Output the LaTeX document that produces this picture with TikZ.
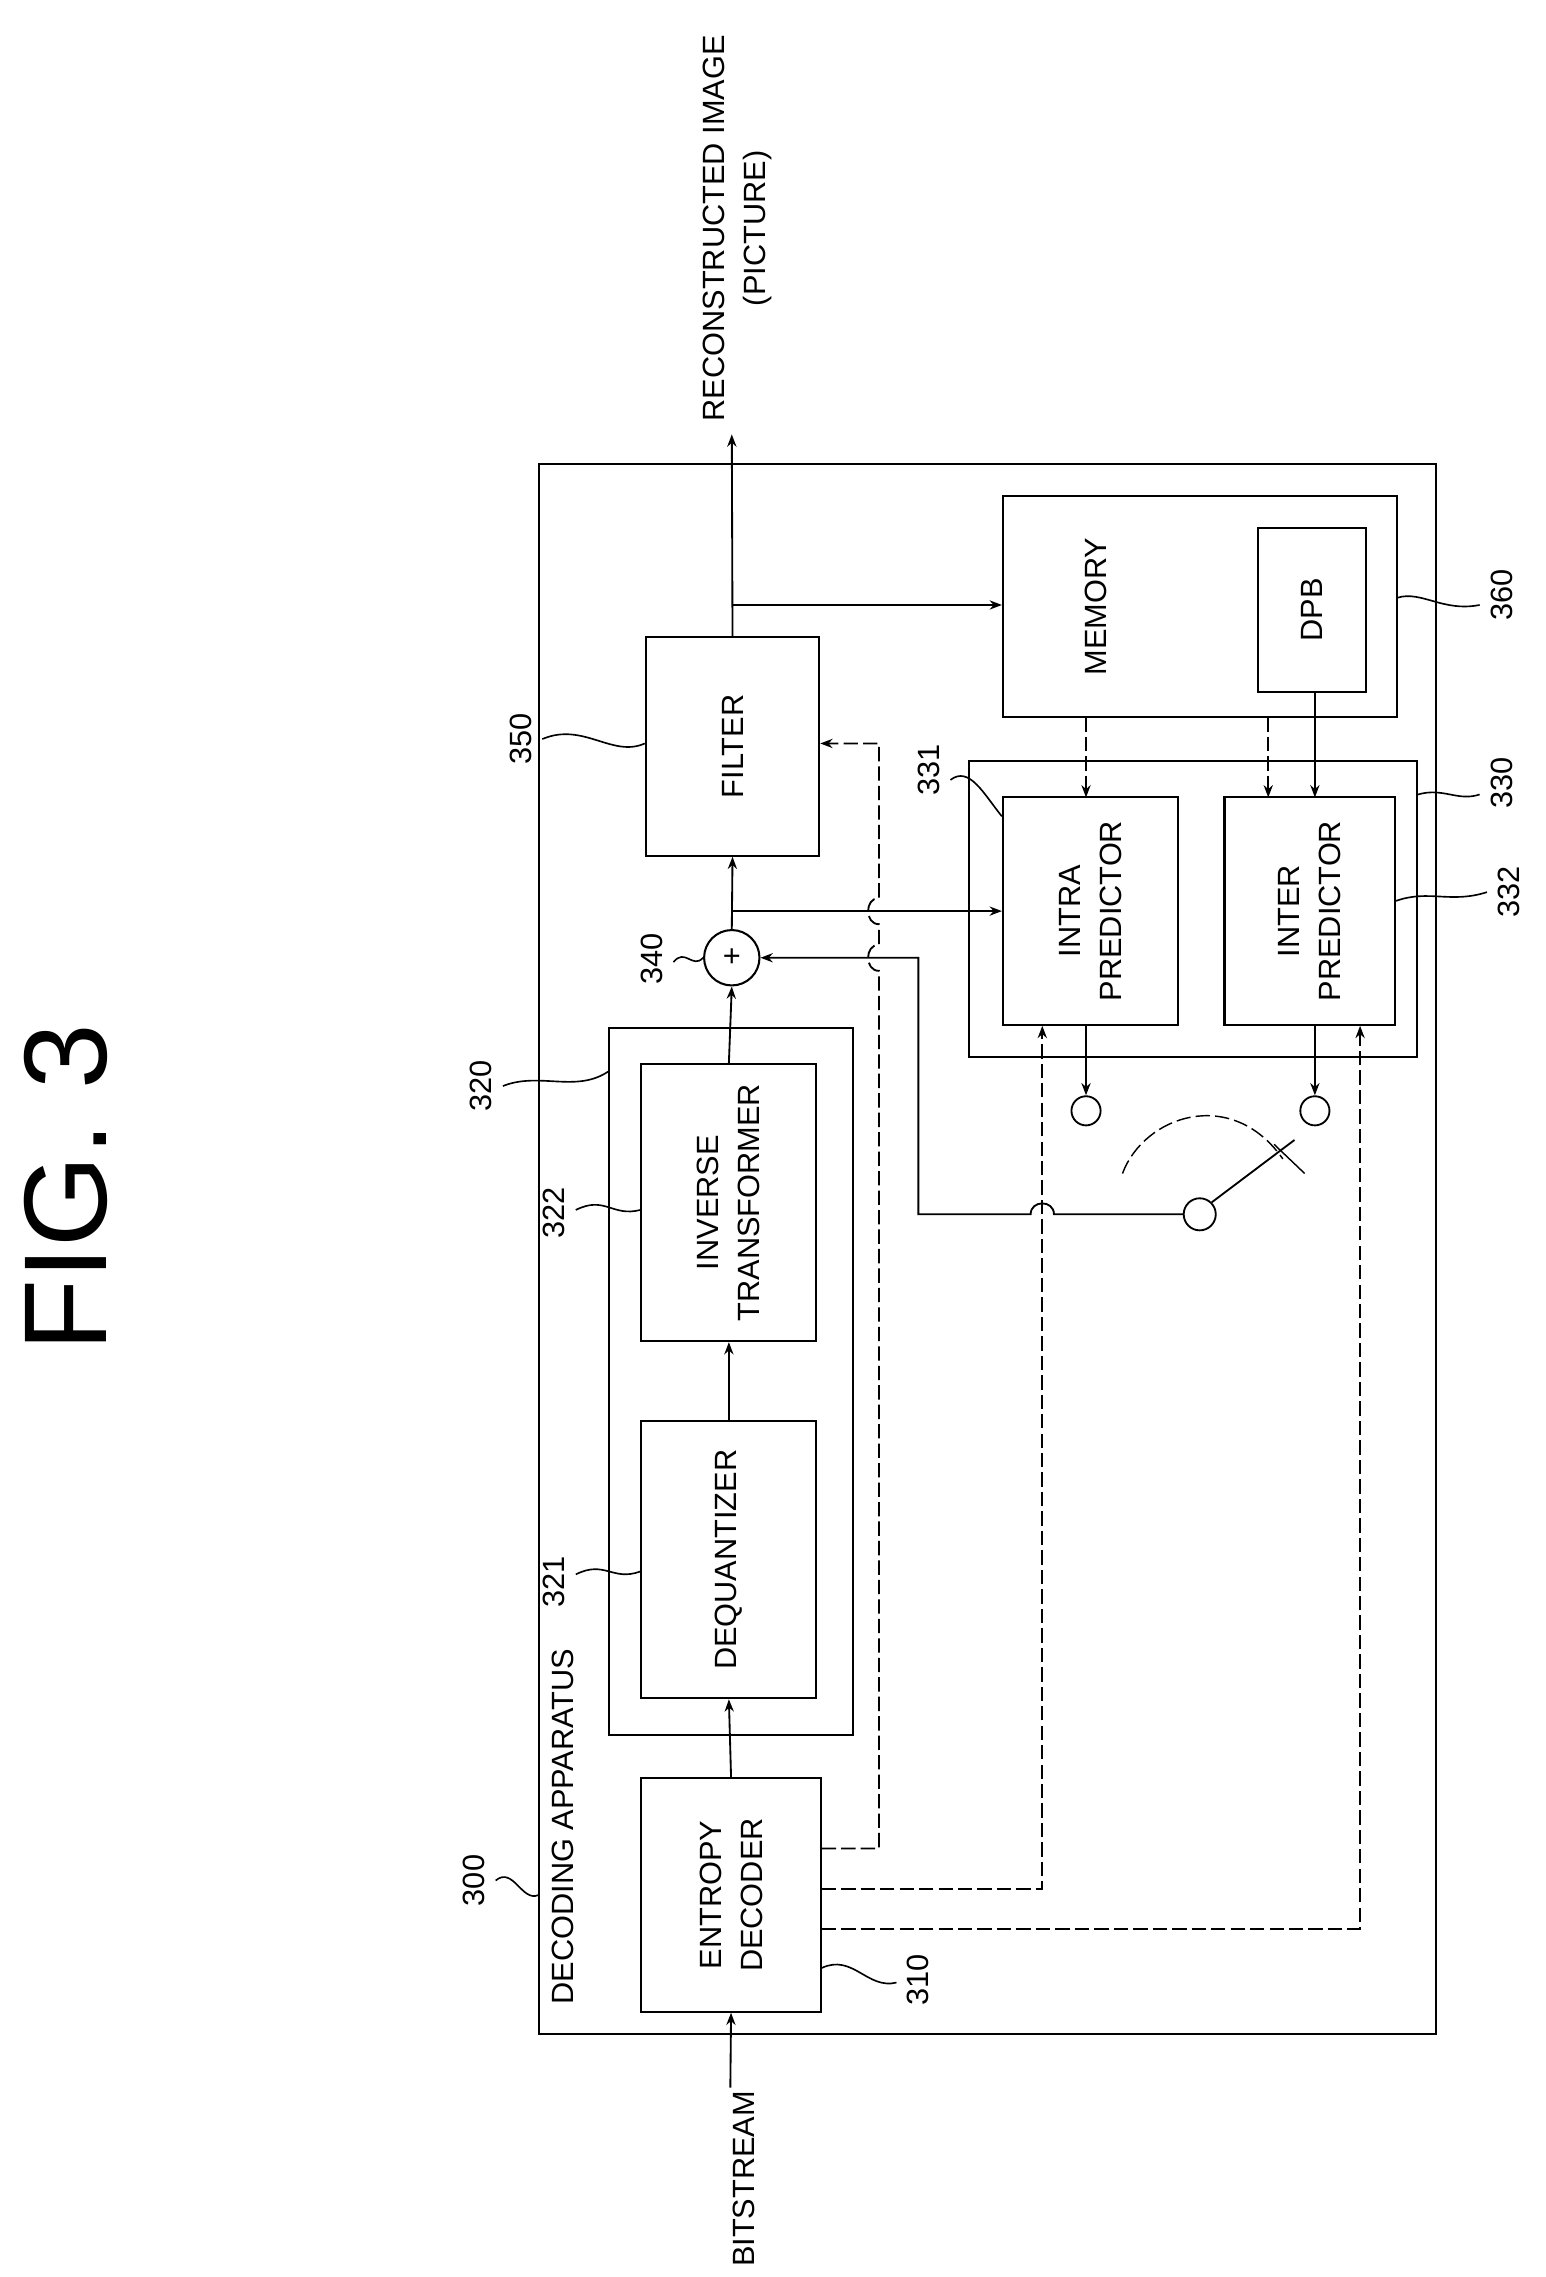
\documentclass[tikz,border=0pt]{standalone}
\usepackage{fontspec}
\setmainfont{Liberation Sans}
\usetikzlibrary{fit,arrows.meta}
\begin{document}
\begin{tikzpicture}[x=0.05cm,y=-0.05cm,line width=1.8pt,
  box/.style={draw,inner sep=0pt,line width=2pt},
  txt/.style={rotate=90,align=center,font=\fontsize{30}{40}\selectfont},
  num/.style={rotate=90,font=\fontsize{30}{36}\selectfont},
  arr/.style={-{Stealth[length=12pt,width=9pt]}},
  dsh/.style={dash pattern=on 14pt off 5pt},
  lead/.style={line width=1.6pt}]
\useasboundingbox (0,0) rectangle (1060,1562);
% boxes
\node[box,fit={(370,318)(985,1395)}] (outer) {};
\node[box,fit={(440,1220)(563,1380)},label={[txt]center:ENTROPY\\DECODER}] (ent) {};
\node[box,fit={(418,705)(585,1190)}] (b320) {};
\node[box,fit={(440,975)(560,1165)},label={[txt]center:DEQUANTIZER}] (deq) {};
\node[box,fit={(440,730)(560,920)},label={[txt]center:INVERSE\\TRANSFORMER}] (inv) {};
\node[box,fit={(443,437)(562,587)},label={[txt]center:FILTER}] (filt) {};
\node[draw,circle,minimum size=1.9cm,inner sep=0pt,line width=2pt] (add) at (502,657) {\fontsize{30}{30}\selectfont +};
\node[box,fit={(688,340)(958,492)}] (mem) {};
\node[txt] (memt) at (752,416) {MEMORY};
\node[box,fit={(863,362)(937,475)},label={[txt]center:DPB}] (dpb) {};
\node[box,fit={(665,522)(972,725)}] (b330) {};
\node[box,fit={(688,547)(808,703)},label={[txt]center:INTRA\\PREDICTOR}] (intra) {};
\node[box,fit={(840,547)(957,703)},label={[txt]center:INTER\\PREDICTOR}] (inter) {};
\node[draw,circle,minimum size=1cm,inner sep=0pt] (c1) at (745,762) {};
\node[draw,circle,minimum size=1cm,inner sep=0pt] (c2) at (902,762) {};
\node[draw,circle,minimum size=1.1cm,inner sep=0pt] (c3) at (823,833) {};
% texts
\node[txt,anchor=west] (dec) at (386,1378) {DECODING APPARATUS};
\node[txt,anchor=west] (bit) at (510,1558) {BITSTREAM};
\node[txt,anchor=west] (rec) at (506,292) {RECONSTRUCTED IMAGE\\(PICTURE)};
\node[rotate=90,font=\fontsize{115}{115}\selectfont] (fig) at (45,815) {FIG. 3};
\coordinate (bitin) at (501,1432);
\coordinate (out) at (502,298);
% main path
\draw[arr] (bitin) -- (ent.south);
\draw[arr] (ent.north) -- (deq.south);
\draw[arr] (deq.north) -- (inv.south);
\draw[arr] (inv.north) -- (add.south);
\draw[arr] (add.north) -- (filt.south);
\draw[arr] (filt.north) -- (out);
\draw[arr] (502,415) -- (mem.west |- 0,415);
\draw[arr] (502,625) -- (610,625) -- (intra.west |- 0,625);
\draw[arr,dsh] (745,492) -- (745,547);
\draw[arr,dsh] (870,492) -- (870,547);
\draw[arr] (dpb.south -| 902,0) -- (902,547);
\draw[arr] (745,703) -- (c1.north);
\draw[arr] (902,703) -- (c2.north);
% switch
\coordinate (lev) at (888,782);
\draw (c3.north east) -- (lev);
\draw[line width=1.4pt] (874,785) -- (895,805);
\draw[dsh,line width=1.4pt] (770,805) .. controls (785,765) and (845,745) .. (880,795);
\draw[arr] (c3.west) -- (723,833) .. controls (723,823) and (707,823) .. (707,833) -- (630,833) -- (630,657) -- (add.east);
% entropy outputs
\draw[arr,dsh] (ent.east |- 0,1268) -- (603,1268) -- (603,666)
  .. controls (593,666) and (593,648) .. (603,648) -- (603,634)
  .. controls (593,634) and (593,616) .. (603,616) -- (603,510) -- (filt.east |- 0,510);
\draw[arr,dsh] (ent.east |- 0,1296) -- (715,1296) -- (intra.south -| 715,0);
\draw[arr,dsh] (ent.east |- 0,1323) -- (933,1323) -- (inter.south -| 933,0);
% reference numerals
\node[num] (n300) at (325,1290) {300};
\draw[lead] (340,1290) .. controls (352,1280) and (358,1305) .. (outer.west |- 0,1300);
\node[num] (n310) at (630,1358) {310};
\draw[lead] (ent.east |- 0,1350) .. controls (585,1340) and (595,1365) .. (615,1360);
\node[num] (n320) at (330,745) {320};
\draw[lead] (345,745) .. controls (370,735) and (395,750) .. (b320.west |- 0,735);
\node[num] (n322) at (380,832) {322};
\draw[lead] (395,830) .. controls (415,820) and (420,835) .. (inv.west |- 0,830);
\node[num] (n321) at (380,1085) {321};
\draw[lead] (395,1080) .. controls (415,1070) and (420,1085) .. (deq.west |- 0,1078);
\node[num] (n340) at (447,658) {340};
\draw[lead] (462,660) .. controls (470,650) and (475,665) .. (add.west);
\node[num] (n350) at (357,507) {350};
\draw[lead] (372,507) .. controls (400,495) and (420,520) .. (filt.west |- 0,510);
\node[num] (n331) at (637,528) {331};
\draw[lead] (652,535) .. controls (665,525) and (675,545) .. (intra.west |- 0,560);
\node[num] (n330) at (1030,537) {330};
\draw[lead] (b330.east |- 0,545) .. controls (990,540) and (1000,550) .. (1015,545);
\node[num] (n332) at (1035,612) {332};
\draw[lead] (inter.east |- 0,618) .. controls (980,610) and (995,620) .. (1020,612);
\node[num] (n360) at (1030,408) {360};
\draw[lead] (mem.east |- 0,410) .. controls (975,405) and (990,420) .. (1015,415);
\end{tikzpicture}
\end{document}
